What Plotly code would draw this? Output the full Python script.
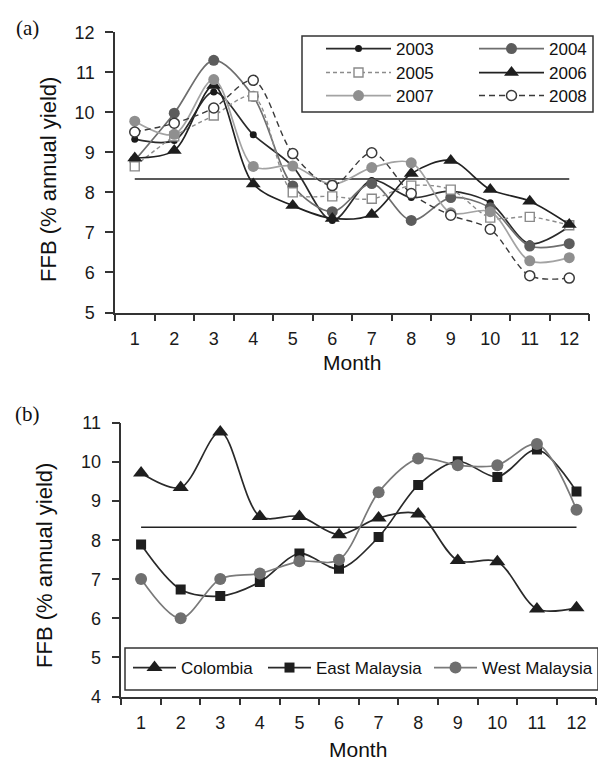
import plotly.graph_objects as go

# ---------------- data ----------------
months = ["1", "2", "3", "4", "5", "6", "7", "8", "9", "10", "11", "12"]

y2003 = [9.33, 9.30, 10.51, 9.44, 8.65, 7.30, 8.30, 7.87, 8.03, 7.74, 6.72, 7.15]
y2004 = [8.80, 9.98, 11.30, 10.40, 8.16, 7.52, 8.22, 7.30, 7.87, 7.62, 6.66, 6.72]
y2005 = [8.65, 9.40, 9.92, 10.40, 8.00, 7.90, 7.84, 8.17, 8.07, 7.37, 7.39, 7.18]
y2006 = [8.86, 9.05, 10.67, 8.21, 7.67, 7.35, 7.45, 8.47, 8.80, 8.07, 7.78, 7.20]
y2007 = [9.78, 9.45, 10.82, 8.65, 8.66, 8.20, 8.62, 8.74, 7.49, 7.52, 6.29, 6.37]
y2008 = [9.51, 9.73, 10.11, 10.80, 8.97, 8.17, 8.99, 7.97, 7.43, 7.08, 5.92, 5.86]

colombia = [9.72, 9.35, 10.77, 8.61, 8.61, 8.14, 8.57, 8.67, 7.48, 7.45, 6.24, 6.27]
east_malaysia = [7.89, 6.74, 6.57, 6.93, 7.66, 7.27, 8.08, 9.41, 10.02, 9.62, 10.32, 9.25]
west_malaysia = [7.01, 6.00, 7.01, 7.15, 7.46, 7.50, 9.23, 10.09, 9.92, 9.92, 10.46, 8.78]

avg_share = 100.0 / 12  # average monthly share (% of annual yield)

W, H = 606, 760
SANS = "Liberation Sans, Arial, sans-serif"
SERIF = "Liberation Serif, Times New Roman, serif"
AX = "#333333"

fig = go.Figure()

# ---------------- panel (a) ----------------
fig.add_trace(go.Scatter(x=[months[0], months[-1]], y=[avg_share, avg_share], mode="lines",
                         line=dict(color="#222222", width=1.6), showlegend=False,
                         xaxis="x", yaxis="y", hoverinfo="skip"))

top_series = [
    ("2003", y2003, dict(color="#2b2b2b", width=1.7),
     dict(symbol="circle", size=7, color="#1a1a1a")),
    ("2004", y2004, dict(color="#6e6e6e", width=1.7),
     dict(symbol="circle", size=11, color="#5c5c5c")),
    ("2005", y2005, dict(color="#8c8c8c", width=1.4, dash="4px,3px"),
     dict(symbol="square", size=9, color="white", line=dict(color="#8a8a8a", width=1.4))),
    ("2006", y2006, dict(color="#222222", width=1.7),
     dict(symbol="triangle-up", size=13, color="#1e1e1e")),
    ("2007", y2007, dict(color="#a3a3a3", width=1.7),
     dict(symbol="circle", size=11, color="#8f8f8f")),
    ("2008", y2008, dict(color="#3a3a3a", width=1.4, dash="6px,4px"),
     dict(symbol="circle", size=10, color="white", line=dict(color="#3a3a3a", width=1.5))),
]
# legend slot (x of line start, y of row centre) in pixels
top_slots = [(318, 41), (471, 41), (318, 65), (471, 65), (318, 88), (471, 88)]

legend_layouts = {}
li = 0
for (name, ys, line, marker), (lx, ly) in zip(top_series, top_slots):
    li += 1
    key = "legend" if li == 1 else f"legend{li}"
    line = dict(line, shape="spline", smoothing=0.9)
    fig.add_trace(go.Scatter(x=months, y=ys, name=name, mode="lines+markers",
                             line=line, marker=marker, xaxis="x", yaxis="y",
                             legend=key))
    legend_layouts[key] = dict(x=(lx - 5) / W, y=1 - ly / H, xanchor="left", yanchor="middle",
                               bgcolor="rgba(0,0,0,0)", borderwidth=0, itemwidth=65,
                               font=dict(family=SANS, size=17, color="#111111"))

# ---------------- panel (b) ----------------
fig.add_trace(go.Scatter(x=[months[0], months[-1]], y=[avg_share, avg_share], mode="lines",
                         line=dict(color="#222222", width=1.6), showlegend=False,
                         xaxis="x2", yaxis="y2", hoverinfo="skip"))

bottom_series = [
    ("Colombia", colombia, dict(color="#2a2a2a", width=1.7),
     dict(symbol="triangle-up", size=14, color="#1e1e1e")),
    ("East Malaysia", east_malaysia, dict(color="#2a2a2a", width=1.7),
     dict(symbol="square", size=10, color="#1e1e1e")),
    ("West Malaysia", west_malaysia, dict(color="#7a7a7a", width=1.7),
     dict(symbol="circle", size=12, color="#6f6f6f")),
]
bottom_slots = [(125, 660), (260, 660), (426, 660)]
for (name, ys, line, marker), (lx, ly) in zip(bottom_series, bottom_slots):
    li += 1
    key = f"legend{li}"
    line = dict(line, shape="spline", smoothing=0.9)
    fig.add_trace(go.Scatter(x=months, y=ys, name=name, mode="lines+markers",
                             line=line, marker=marker, xaxis="x2", yaxis="y2",
                             legend=key))
    legend_layouts[key] = dict(x=(lx - 5) / W, y=1 - ly / H, xanchor="left", yanchor="middle",
                               bgcolor="rgba(0,0,0,0)", borderwidth=0, itemwidth=43,
                               font=dict(family=SANS, size=17, color="#111111"))

# ---------------- axes ----------------
def xax(domain, anchor):
    return dict(domain=domain, anchor=anchor, type="category", categoryorder="array",
                categoryarray=months, range=[-0.5, 11.5], tickson="boundaries",
                ticks="outside", ticklen=7, tickwidth=1.5, tickcolor=AX,
                showline=True, linecolor=AX, linewidth=1.5, showgrid=False,
                zeroline=False, ticklabelstandoff=9, automargin=False,
                tickfont=dict(family=SANS, size=18, color="#1a1a1a"))


def yax(domain, anchor, rng):
    return dict(domain=domain, anchor=anchor, range=rng, dtick=1, tick0=0,
                ticks="outside", ticklen=8, tickwidth=1.5, tickcolor=AX,
                showline=True, linecolor=AX, linewidth=1.5, showgrid=False,
                zeroline=False, ticklabelstandoff=7, automargin=False,
                tickfont=dict(family=SANS, size=18, color="#1a1a1a"))


fig.update_layout(
    width=W, height=H, margin=dict(l=0, r=0, t=0, b=0, autoexpand=False),
    paper_bgcolor="white", plot_bgcolor="white",
    xaxis=xax([107 / W, 581 / W], "y"),
    yaxis=yax([1 - 304.5 / H, 1 - 24.3 / H], "x", [5, 12]),
    xaxis2=xax([113.3 / W, 588.3 / W], "y2"),
    yaxis2=yax([1 - 688.5 / H, 1 - 415 / H], "x2", [4, 11]),
    shapes=[
        dict(type="rect", xref="paper", yref="paper", x0=294 / W, x1=585 / W,
             y0=1 - 104 / H, y1=1 - 28 / H, line=dict(color="#333333", width=1.5),
             fillcolor="white", layer="above"),
        dict(type="rect", xref="paper", yref="paper", x0=117 / W, x1=590 / W,
             y0=1 - 682 / H, y1=1 - 640 / H, line=dict(color="#333333", width=1.5),
             fillcolor="white", layer="above"),
    ],
    annotations=[
        dict(text="(a)", x=20 / W, y=1 - 20 / H, xref="paper", yref="paper",
             xanchor="center", yanchor="middle", showarrow=False,
             font=dict(family=SERIF, size=21, color="#111111")),
        dict(text="(b)", x=20 / W, y=1 - 406 / H, xref="paper", yref="paper",
             xanchor="center", yanchor="middle", showarrow=False,
             font=dict(family=SERIF, size=21, color="#111111")),
        dict(text="FFB (% annual yield)", x=40 / W, y=1 - 172 / H, xref="paper", yref="paper",
             xanchor="center", yanchor="middle", textangle=-90, showarrow=False,
             font=dict(family=SANS, size=22, color="#111111")),
        dict(text="FFB (% annual yield)", x=36 / W, y=1 - 558 / H, xref="paper", yref="paper",
             xanchor="center", yanchor="middle", textangle=-90, showarrow=False,
             font=dict(family=SANS, size=22, color="#111111")),
        dict(text="Month", x=344 / W, y=1 - 355 / H, xref="paper", yref="paper",
             xanchor="center", yanchor="middle", showarrow=False,
             font=dict(family=SANS, size=21, color="#111111")),
        dict(text="Month", x=350 / W, y=1 - 741 / H, xref="paper", yref="paper",
             xanchor="center", yanchor="middle", showarrow=False,
             font=dict(family=SANS, size=21, color="#111111")),
    ],
    **legend_layouts,
)

fig.write_html("out.html")
